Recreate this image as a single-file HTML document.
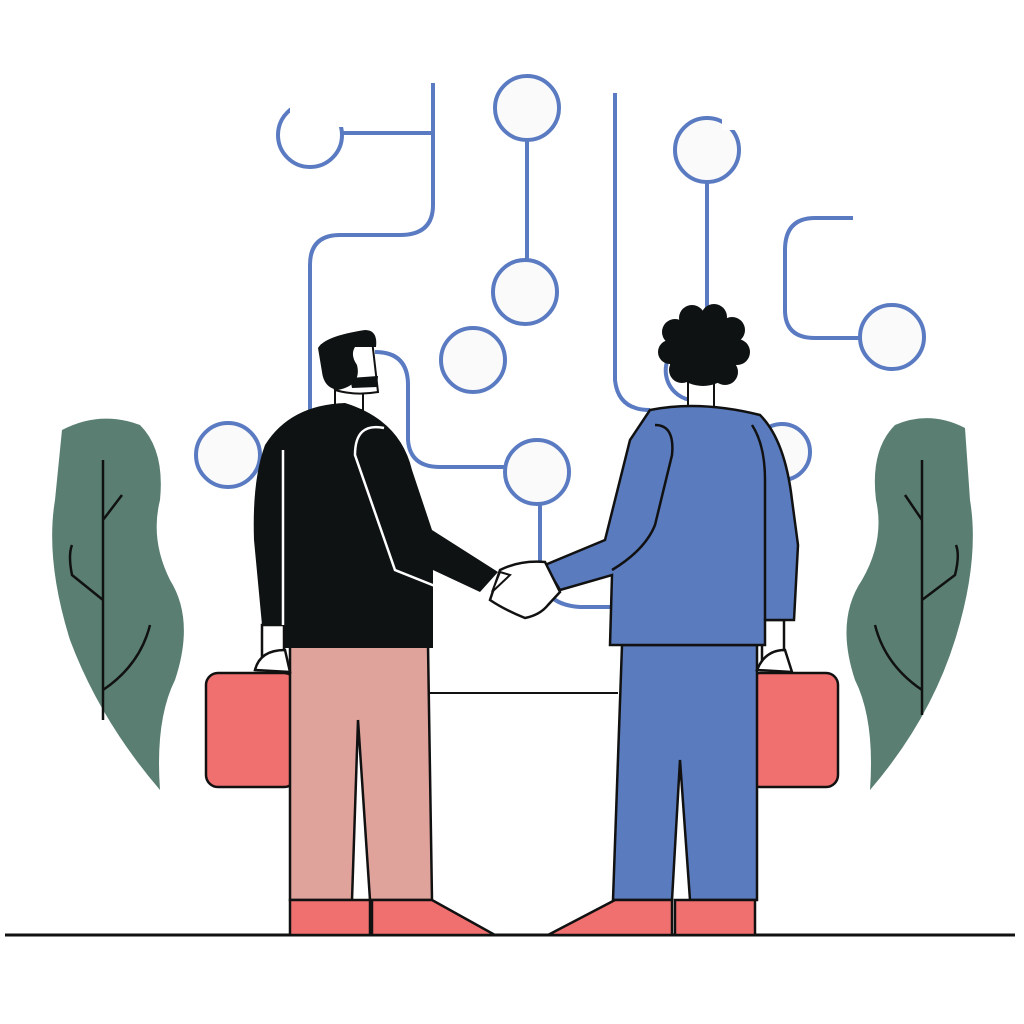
<!DOCTYPE html>
<html><head><style>html,body{margin:0;padding:0;background:#fff}svg{display:block}</style></head><body>
<svg width="1024" height="1024" viewBox="0 0 1024 1024" xmlns="http://www.w3.org/2000/svg">
<rect width="1024" height="1024" fill="#fff"/>
<g fill="none" stroke="#5a7bc2" stroke-width="4">
<circle cx="310" cy="135" r="32"/>
<path d="M433,83 V205 Q433,235 400,235 H340 Q310,235 310,265 V410"/>
<path d="M527,140 V262"/>
<path d="M375,352 Q408,352 408,385 V440 Q410,467 440,467 H505"/>
<path d="M540,504 V575 Q545,605 580,607 H610"/>
<path d="M615,93 V380 Q618,410 650,410"/>
<path d="M707,182 V310"/>
<path d="M853,218 H815 Q785,218 785,250 V310 Q785,338 815,338 H860"/>
<path d="M690,400 A30,30 0 0 1 680,345"/>
</g>
<g fill="#fafafa" stroke="#5a7bc2" stroke-width="4">
<circle cx="527" cy="108" r="32"/>
<circle cx="525" cy="292" r="32"/>
<circle cx="473" cy="360" r="32"/>
<circle cx="537" cy="472" r="32"/>
<circle cx="228" cy="455" r="32"/>
<circle cx="892" cy="337" r="32"/>
<circle cx="782" cy="452" r="28"/>
<circle cx="707" cy="150" r="32"/>
</g>
<rect x="290" y="95" width="58" height="22" fill="#fff"/>
<rect x="330" y="95" width="18" height="32" fill="#fff"/>
<rect x="722" y="108" width="30" height="22" fill="#fff"/>
<path d="M341,133 H433" stroke="#5a7bc2" stroke-width="4"/>
<path d="M62,430 Q100,410 140,425 Q165,450 160,500 Q150,540 170,580 Q195,620 175,680 Q155,720 160,790 Q100,720 70,640 Q45,560 55,500 Z" fill="#5a7f72"/>
<g stroke="#111" stroke-width="2.5" fill="none"><path d="M103,460 V720 M103,520 L122,495 M103,600 L72,575 Q68,555 72,545 M103,690 Q140,665 150,625"/></g>
<path d="M965,428 Q930,410 895,425 Q870,450 876,500 Q885,540 862,580 Q835,620 855,680 Q875,720 870,790 Q930,720 955,640 Q980,560 970,500 Z" fill="#5a7f72"/>
<g stroke="#111" stroke-width="2.5" fill="none"><path d="M922,460 V715 M922,520 L905,495 M922,600 L955,575 Q960,555 956,545 M922,690 Q885,665 875,625"/></g>
<path d="M425,693 H618" stroke="#111" stroke-width="2"/>
<path d="M5,935 H1015" stroke="#111" stroke-width="3"/>
<g stroke="#111" stroke-width="2.5">
<rect x="206" y="673" width="90" height="114" rx="12" fill="#f07070"/>
<rect x="748" y="673" width="90" height="114" rx="12" fill="#f07070"/>
<path d="M290,645 H428 L432,900 H370 L358,720 L352,900 H290 Z" fill="#e0a39c"/>
<path d="M290,900 H370 V935 H290 Z M372,900 H432 L495,935 H372 Z" fill="#f07070"/>
<path d="M622,645 H757 V900 H690 L680,760 L672,900 H613 Z" fill="#5a7bbd"/>
<path d="M615,900 H672 V935 H548 Z M675,900 H755 V935 H675 Z" fill="#f07070"/>
<rect x="262" y="625" width="22" height="40" fill="#fff"/>
<path d="M255,670 Q260,650 285,650 L290,672 Z" fill="#fff"/>
<rect x="762" y="620" width="22" height="40" fill="#fff"/>
<path d="M757,670 Q765,650 785,650 L792,672 Z" fill="#fff"/>
</g>
<rect x="335" y="385" width="28" height="25" fill="#fff" stroke="#111" stroke-width="2"/>
<path d="M322,345 L372,340 L378,392 Q355,396 335,390 Z" fill="#fff" stroke="#111" stroke-width="2"/>
<path d="M318,348 Q325,336 365,330 Q378,330 376,347 L355,347 Q350,355 357,365 Q362,385 338,390 Q324,388 322,372 Z" fill="#0e1213"/>
<path d="M350,378 L378,376 L377,387 L352,388 Z" fill="#0e1213"/>
<path d="M345,403 Q290,405 265,445 Q252,480 254,540 L262,625 L285,625 L285,648 H433 V570 L480,592 L498,572 L432,530 L412,470 Q400,420 345,403 Z" fill="#0e1213"/>
<path d="M384,428 Q355,422 355,455 L395,570 L470,600" fill="none" stroke="#fff" stroke-width="2.5"/>
<path d="M283,450 V625" stroke="#fff" stroke-width="2.5"/>
<rect x="688" y="382" width="26" height="30" fill="#fff" stroke="#111" stroke-width="2"/>
<path d="M650,410 Q700,400 760,415 Q785,440 792,500 L798,545 L794,620 L765,620 L765,645 H610 L612,575 L560,590 L545,565 L605,540 L630,440 Z" fill="#5a7bbd" stroke="#111" stroke-width="2.5"/>
<path d="M655,425 Q675,425 672,455 L655,525 Q645,550 612,570" fill="none" stroke="#111" stroke-width="2.5"/>
<path d="M752,425 Q765,445 765,480 V620" fill="none" stroke="#111" stroke-width="2.5"/>
<circle cx="703" cy="350" r="36" fill="#0e1213"/>
<g fill="#0e1213"><circle cx="675" cy="332" r="13"/><circle cx="692" cy="318" r="13"/><circle cx="714" cy="317" r="13"/><circle cx="732" cy="330" r="13"/><circle cx="737" cy="352" r="13"/><circle cx="725" cy="372" r="13"/><circle cx="682" cy="370" r="13"/><circle cx="670" cy="352" r="12"/></g>
<path d="M500,570 Q520,560 545,562 L560,592 L548,605 Q540,615 525,618 Q505,610 490,600 Z" fill="#fff" stroke="#111" stroke-width="2.5"/>
<path d="M492,592 L500,572 L510,575 Z" fill="#fff" stroke="#111" stroke-width="2"/>
</svg>
</body></html>
